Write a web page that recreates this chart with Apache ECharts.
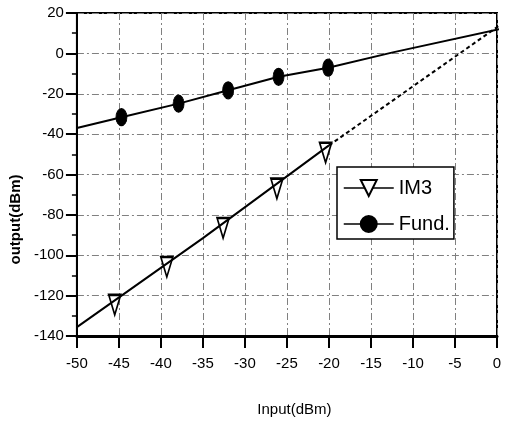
<!DOCTYPE html>
<html>
<head>
<meta charset="utf-8">
<script src="https://cdn.jsdelivr.net/npm/echarts@6/dist/echarts.min.js"></script>
<style>
  html, body { margin: 0; padding: 0; background: #fff; }
  #chart { width: 515px; height: 424px; }
</style>
</head>
<body>
<div id="chart"></div>
<script>
// ---- data ----
const im3X = [-45.5, -39.3, -32.6, -26.2, -20.4];
const im3Y = [-124.6, -105.8, -86.5, -67.0, -49.2];
const fundX = [-44.7, -37.9, -32.0, -26.0, -20.1];
const fundY = [-31.6, -24.9, -18.3, -11.6, -7.1];
// fitted lines
const im3FitX = [-50, -35, -20];
const im3FitY = [-135.6, -91.5, -45.6];
const im3ExtX = [-20, 1.2];
const im3ExtY = [-45.6, 16.5];
const fundFitX = [-50, -44.7, -37.9, -32.0, -26.0, -20.1, -12.4, 1.3];
const fundFitY = [-37.0, -31.6, -24.9, -18.3, -11.6, -7.1, 0.5, 12.9];
// axes
const xMin = -50, xMax = 0, xStep = 5;
const yMin = -140, yMax = 20, yStep = 20;
const legendNames = ['IM3', 'Fund.'];
const xTitle = 'Input(dBm)';
const yTitle = 'output(dBm)';

const pairs = (xs, ys) => xs.map((x, i) => [x, ys[i]]);
const narrow = "'Liberation Sans Narrow', 'Arial Narrow', 'Liberation Sans', sans-serif";
const triPath = 'path://M0,0 L12,0 L6,20 Z';
const ellPath = 'path://M5,0 A5,8 0 1,1 5,16 A5,8 0 1,1 5,0 Z';
const gridLine = { color: '#808080', width: 1, type: [7, 3, 2, 3] };

const chart = echarts.init(document.getElementById('chart'), null, { renderer: 'canvas' });
chart.setOption({
  backgroundColor: '#fff',
  animation: false,
  grid: { left: 76, right: 18, top: 13, bottom: 88, show: true, borderColor: '#000', borderWidth: 2, backgroundColor: 'transparent' },
  xAxis: {
    type: 'value', min: xMin, max: xMax, interval: xStep,
    name: xTitle, nameLocation: 'middle', nameGap: 66,
    nameTextStyle: { fontFamily: narrow, fontSize: 15, color: '#000', padding: [0, 0, 0, 15] },
    axisLine: { show: true, onZero: false, lineStyle: { color: '#000', width: 3 } },
    axisTick: { show: true, length: 12, lineStyle: { color: '#000', width: 2 } },
    axisLabel: { margin: 20, fontFamily: narrow, fontSize: 15, color: '#000' },
    splitLine: { show: true, lineStyle: gridLine }
  },
  yAxis: {
    type: 'value', min: yMin, max: yMax, interval: yStep,
    name: yTitle, nameLocation: 'middle', nameGap: 50, nameRotate: 90,
    nameTextStyle: { fontFamily: "'Liberation Sans', Arial, sans-serif", fontWeight: 'bold', fontSize: 15, color: '#000', padding: [0, 90, 0, 0] },
    axisLine: { show: true, onZero: false, lineStyle: { color: '#000', width: 2 } },
    axisTick: { show: true, length: 11, lineStyle: { color: '#000', width: 2 } },
    minorTick: { show: true, splitNumber: 2, length: 5, lineStyle: { color: '#000', width: 1.5 } },
    axisLabel: { margin: 13, fontFamily: narrow, fontSize: 15, color: '#000' },
    splitLine: { show: true, lineStyle: gridLine }
  },
  legend: {
    orient: 'vertical', left: 337, top: 167,
    padding: [9, 4, 3, 6], itemGap: 12, itemWidth: 50, itemHeight: 20,
    backgroundColor: '#fff', borderColor: '#000', borderWidth: 1.5, borderRadius: 0,
    textStyle: { fontFamily: narrow, fontSize: 20, color: '#000', lineHeight: 24 },
    data: [
      { name: legendNames[0], lineStyle: { color: '#000', width: 1.5, opacity: 1 } },
      { name: legendNames[1], lineStyle: { color: '#000', width: 1.5, opacity: 1 } }
    ]
  },
  series: [
    {
      name: 'fund-fit', type: 'line', data: pairs(fundFitX, fundFitY), clip: false,
      showSymbol: false, symbol: 'none', smooth: false,
      lineStyle: { color: '#000', width: 2 }, z: 3
    },
    {
      name: legendNames[0], type: 'line', data: pairs(im3X, im3Y), clip: false,
      symbol: triPath, symbolSize: [12, 20],
      itemStyle: { color: '#fff', borderColor: '#000', borderWidth: 2 },
      lineStyle: { opacity: 0, width: 0 }, z: 3
    },
    {
      name: 'im3-fit', type: 'line', data: pairs(im3FitX, im3FitY), clip: false,
      symbol: 'none', lineStyle: { color: '#000', width: 2 }, z: 4
    },
    {
      name: 'im3-ext', type: 'line', data: pairs(im3ExtX, im3ExtY), clip: false,
      symbol: 'none', lineStyle: { color: '#000', width: 2, type: [4, 3] }, z: 4
    },
    {
      name: legendNames[1], type: 'line', data: pairs(fundX, fundY), clip: false,
      symbol: ellPath, symbolSize: [11, 17],
      itemStyle: { color: '#000', borderColor: '#000', borderWidth: 1 },
      lineStyle: { opacity: 0, width: 0 }, z: 5
    }
  ]
});
</script>
</body>
</html>
